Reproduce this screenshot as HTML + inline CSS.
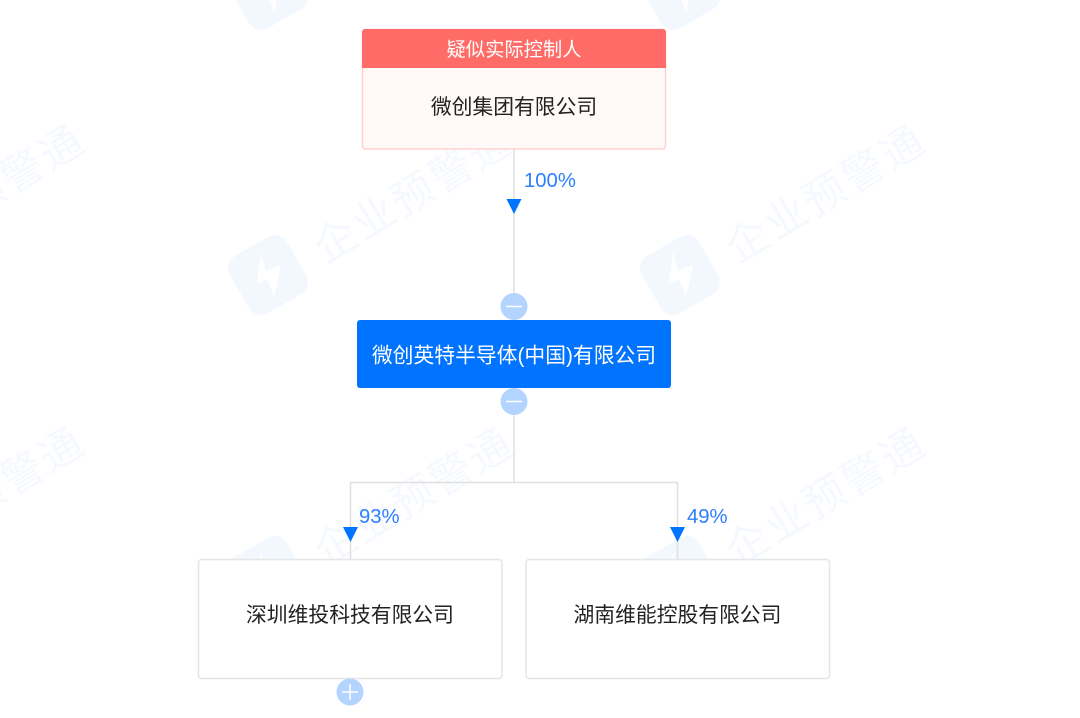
<!DOCTYPE html>
<html lang="zh"><head><meta charset="utf-8"><title>股权结构图</title>
<style>
html,body{margin:0;padding:0;background:#fff}
svg{display:block}
text{font-family:"Liberation Sans","Noto Sans CJK SC",sans-serif}
.wm{font-size:42px;fill:#f5f9ff;letter-spacing:3px}
.n{font-size:20.8px;fill:#222;text-anchor:middle}
.p{font-size:20.3px;fill:#2b7fff}
</style></head><body>
<svg width="1080" height="718" viewBox="0 0 1080 718" xmlns="http://www.w3.org/2000/svg">
<defs>
<g id="logo"><rect x="-33" y="-33" width="66" height="66" rx="14" fill="#f3f8ff" transform="rotate(-30)"/><path d="M-7,-23 L-11,9 L-1,4 L6,22 L13,-10 L-2,-4 Z" fill="#fff"/></g>
</defs>
<rect width="1080" height="718" fill="#fff"/>
<!-- watermarks -->
<use href="#logo" x="268" y="-10"/><use href="#logo" x="680" y="-10"/>
<use href="#logo" x="268" y="275"/><use href="#logo" x="680" y="275"/>
<use href="#logo" x="268" y="576"/><use href="#logo" x="680" y="576"/>
<text class="wm" transform="translate(-104,264) rotate(-31)">企业预警通</text>
<text class="wm" transform="translate(-104,566) rotate(-31)">企业预警通</text>
<text class="wm" transform="translate(325,264) rotate(-31)">企业预警通</text>
<text class="wm" transform="translate(737,264) rotate(-31)">企业预警通</text>
<text class="wm" transform="translate(325,567) rotate(-31)">企业预警通</text>
<text class="wm" transform="translate(737,567) rotate(-31)">企业预警通</text>
<!-- connectors -->
<g stroke="#e0e0e0" stroke-width="1.5" fill="none">
<path d="M514 149V320M514 388V482M350.5 559V482.5H677.5V559"/>
</g>
<!-- arrowheads -->
<path d="M506.5 199H521.5L514 214Z" fill="#0073ff"/>
<path d="M343 527H358L350.5 542Z" fill="#0073ff"/>
<path d="M670 527H685L677.5 542Z" fill="#0073ff"/>
<text class="p" x="524" y="187">100%</text>
<text class="p" x="359" y="523">93%</text>
<text class="p" x="687" y="523">49%</text>
<!-- top card -->
<rect x="362.5" y="29.5" width="303" height="119.5" rx="3" fill="#fff9f8" stroke="#ffd2d0" stroke-width="1.5"/>
<path d="M362 68V32a3 3 0 0 1 3-3H663a3 3 0 0 1 3 3V68Z" fill="#ff6b66"/>
<text x="514" y="56" fill="#fff" text-anchor="middle" style="font-size:19.3px">疑似实际控制人</text>
<text class="n" x="514" y="114">微创集团有限公司</text>
<!-- blue node -->
<rect x="357" y="320" width="314" height="68" rx="3" fill="#0073ff"/>
<text x="514" y="362.5" fill="#fff" text-anchor="middle" style="font-size:20.8px">微创英特半导体(中国)有限公司</text>
<!-- bottom nodes -->
<rect x="198.5" y="559.5" width="303.5" height="119" rx="3" fill="#fff" stroke="#e6e6e6" stroke-width="1.5"/>
<rect x="526" y="559.5" width="303.5" height="119" rx="3" fill="#fff" stroke="#e6e6e6" stroke-width="1.5"/>
<text class="n" x="350" y="622">深圳维投科技有限公司</text>
<text class="n" x="677.5" y="622">湖南维能控股有限公司</text>
<!-- toggles -->
<circle cx="514" cy="306.5" r="13.5" fill="#b3d4ff"/><path d="M506 306.5H522" stroke="#fff" stroke-width="1.5"/>
<circle cx="514" cy="401.5" r="13.5" fill="#b3d4ff"/><path d="M506 401.5H522" stroke="#fff" stroke-width="1.5"/>
<circle cx="350" cy="692" r="13.5" fill="#b3d4ff"/><path d="M342 692H358M350 684V700" stroke="#fff" stroke-width="1.5"/>
</svg>
</body></html>
